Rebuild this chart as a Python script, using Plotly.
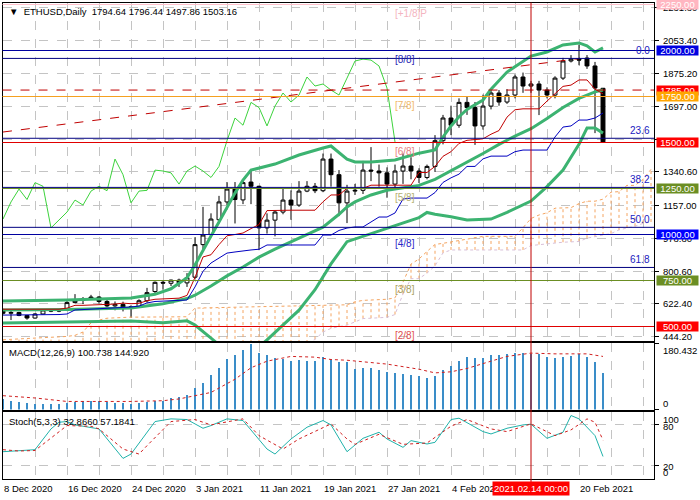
import plotly.graph_objects as go

# ---------------- data ----------------
date_tick_idx = [0, 8, 16, 24, 32, 40, 48, 56, 72]
date_tick_lbl = ["8 Dec 2020", "16 Dec 2020", "24 Dec 2020", "3 Jan 2021", "11 Jan 2021",
                 "19 Jan 2021", "27 Jan 2021", "4 Feb 2021", "20 Feb 2021"]
cross_idx = 66
cross_lbl = "2021.02.14 00:00"

price_grid_vals = [444.2, 622.4, 800.6, 978.8, 1157.0, 1340.6, 1518.8, 1697.0, 1875.2, 2053.4, 2231.8]
price_tick_vals = [444.2, 622.4, 800.6, 978.8, 1157.0, 1340.6, 1697.0, 1875.2, 2053.4, 2231.8]
price_tick_lbl = ["444.20", "622.40", "800.60", "978.80", "1157.00", "1340.60",
                  "1697.00", "1875.20", "2053.40", "2231.80"]

opens = [590, 572, 576, 560, 546, 568, 590, 584, 587, 630,
         642, 652, 660, 636, 612, 620, 598, 608, 640, 690,
         740, 735, 752, 737, 768, 945, 1000, 1080, 1177, 1247,
         1188, 1285, 1262, 1036, 1078, 1122, 1187, 1160, 1236, 1262,
         1238, 1410, 1325, 1172, 1236, 1240, 1350, 1345, 1335, 1274,
         1345, 1372, 1345, 1310, 1370, 1510, 1633, 1594, 1718, 1690,
         1590, 1698, 1769, 1720, 1758, 1856, 1807, 1818, 1785, 1758,
         1850, 1943, 1953, 1959, 1916, 1794.64]
highs = [596, 590, 580, 562, 572, 595, 592, 596, 640, 676,
         660, 672, 665, 646, 636, 635, 615, 648, 710, 745,
         748, 755, 760, 790, 985, 1150, 1115, 1210, 1285, 1285,
         1300, 1348, 1265, 1115, 1130, 1250, 1240, 1290, 1290, 1280,
         1440, 1440, 1350, 1270, 1275, 1400, 1475, 1380, 1365, 1380,
         1440, 1420, 1360, 1380, 1540, 1650, 1700, 1740, 1750, 1720,
         1760, 1790, 1785, 1790, 1870, 1880, 1835, 1835, 1800, 1860,
         1960, 1975, 2030, 1975, 1938, 1796.44]
lows = [565, 535, 556, 537, 543, 565, 578, 578, 584, 626,
        622, 645, 625, 600, 588, 582, 548, 605, 630, 680,
        700, 720, 715, 715, 760, 912, 985, 1060, 1160, 1060,
        1165, 1165, 915, 1005, 990, 1110, 1080, 1150, 1230, 1225,
        1230, 1260, 1100, 1062, 1215, 1220, 1290, 1260, 1200, 1250,
        1275, 1300, 1280, 1300, 1340, 1490, 1540, 1580, 1650, 1487,
        1570, 1680, 1700, 1710, 1740, 1770, 1770, 1649, 1740, 1740,
        1840, 1935, 1920, 1900, 1551, 1497.86]
closes = [572, 576, 560, 546, 568, 590, 584, 586, 630, 642,
          652, 660, 636, 612, 620, 604, 608, 640, 684, 740,
          736, 752, 738, 765, 945, 997, 1084, 1177, 1247, 1190,
          1282, 1262, 1036, 1078, 1122, 1187, 1160, 1236, 1262, 1238,
          1410, 1325, 1172, 1236, 1240, 1350, 1345, 1335, 1274, 1345,
          1372, 1345, 1310, 1370, 1510, 1633, 1594, 1718, 1690, 1590,
          1698, 1769, 1720, 1758, 1856, 1807, 1818, 1785, 1758, 1850,
          1943, 1953, 1948, 1916, 1796, 1503.16]

# Bollinger bands (read at selected bars)
bb_up_x = [0, 8, 16, 19, 21, 23, 24, 25, 26, 27, 28, 29, 30, 31, 34, 37, 40, 41, 43, 44, 46, 49,
           52, 54, 55, 56, 57, 58, 60, 61, 63, 66, 68, 70, 72, 73, 74, 75]
bb_up = [639, 644, 655, 675, 705, 765, 834, 916, 992, 1068, 1149, 1225, 1296, 1350, 1383, 1432,
         1470, 1481, 1410, 1394, 1394, 1405, 1442, 1460, 1530, 1590, 1640, 1680, 1731, 1790, 1883,
         1970, 1992, 2030, 2041, 2025, 1992, 2014]
bb_mid_x = [0, 8, 16, 20, 23, 24, 26, 28, 30, 32, 34, 36, 38, 40, 42, 43, 44, 46, 48, 50, 52, 54,
            56, 58, 60, 62, 64, 66, 68, 70, 72, 74, 75]
bb_mid = [590, 592, 600, 624, 652, 670, 720, 775, 823, 877, 920, 960, 1000, 1040, 1110, 1150, 1177,
          1215, 1240, 1255, 1267, 1300, 1347, 1390, 1440, 1490, 1535, 1575, 1630, 1690, 1740, 1775, 1785]
bb_low_x = [0, 8, 16, 20, 22, 23, 24, 25, 26, 27, 28, 30, 32, 33, 35, 37, 39, 41, 43, 47, 50, 52,
            53, 54, 56, 58, 61, 63, 66, 68, 70, 72, 73, 74, 75]
bb_low = [519, 524, 530, 521, 525, 531, 508, 475, 437, 400, 370, 350, 390, 427, 510, 589, 700, 840,
          961, 1020, 1062, 1092, 1120, 1110, 1096, 1079, 1084, 1120, 1182, 1260, 1350, 1490, 1579,
          1579, 1551]

# Ichimoku lines (per bar)
tenkan = [594, 594, 594, 594, 594, 594, 594, 594,
          600, 615, 615, 617, 617, 618, 622, 627, 624, 626,
          640, 648, 650, 652, 654, 669, 767, 878, 890, 945,
          993, 1000, 1008, 1032, 1054, 1130, 1132, 1132, 1132, 1132,
          1132, 1132, 1178, 1215, 1215, 1251, 1251, 1251, 1268, 1268,
          1268, 1268, 1268, 1268, 1337, 1337, 1370, 1425, 1450, 1495,
          1512, 1515, 1520, 1545, 1565, 1638, 1678, 1683, 1683, 1683,
          1725, 1765, 1805, 1812, 1840, 1840, 1790, 1764]
kijun = [562, 562, 562, 562, 562, 565, 565, 565, 568, 590,
         592, 594, 596, 598, 600, 603, 606, 611, 628, 636,
         638, 640, 642, 644, 715, 800, 845, 872, 899, 905,
         912, 916, 920, 943, 943, 943, 943, 943, 943, 943,
         997, 997, 1022, 1035, 1041, 1041, 1068, 1095, 1095, 1117,
         1193, 1198, 1198, 1198, 1228, 1283, 1308, 1328, 1370, 1370,
         1411, 1426, 1426, 1426, 1450, 1459, 1459, 1459, 1459, 1530,
         1584, 1590, 1622, 1622, 1633, 1660]
span_a = [428, 430, 432, 434, 436, 438, 440, 442, 446, 452,
          470, 520, 535, 545, 548, 550, 551, 551, 551, 551,
          551, 551, 551, 553, 600, 601,
          602, 602, 603, 603, 604, 604, 605, 605, 606, 607,
          608, 609, 611, 613, 615, 616, 617, 618, 634, 642,
          644, 646, 648, 656,
          741, 839, 867, 908, 946, 952, 960, 965, 975, 985,
          990, 990, 990, 990, 990, 1037,
          1087, 1106, 1118, 1143, 1146, 1146, 1168, 1181, 1181, 1192,
          1230, 1233, 1267, 1267, 1299, 1354]
span_b = [380, 380, 380, 380, 380, 380, 380, 380, 380, 380,
          390, 390, 390, 390, 390, 390, 390, 390, 390, 390,
          400, 400, 400, 400, 400, 400, 400, 400, 400, 400,
          410, 410, 410, 410, 410, 410, 410, 410, 410,
          430, 470, 490, 500, 508, 525, 543, 545, 548, 550, 565, 677, 760, 760, 790, 830, 900,
          916, 916, 916, 916, 916, 916, 916, 916, 916, 916,
          940, 945, 950, 955, 958, 960, 962, 980, 990, 997, 1005, 1025, 1035, 1045, 1060, 1068]
chikou_shift = 26

# MACD
macd_main = [28.8, 24, 21.5, 19, 17, 17, 17, 17, 19, 21.5,
             24, 25.5, 24, 21.5, 20, 19, 17, 19, 21.5, 24,
             25.5, 34, 36.7, 41, 59, 75, 95, 114, 140, 150,
             165, 180.4, 155, 150, 143, 139, 135, 137, 135, 135,
             144, 139, 130, 130, 111, 114, 114, 109, 103, 100,
             98, 96, 92, 87, 94, 110, 121, 134, 145, 141,
             143, 150, 150, 152, 157, 157, 153, 152, 145, 141,
             145, 148, 154, 145, 132, 100.7]
macd_sig_x = [0, 4, 8, 12, 16, 20, 22, 24, 26, 29, 31, 33, 36, 39, 41, 43, 45, 48, 52, 54, 56, 58,
              61, 63, 66, 69, 73, 75]
macd_sig = [37.7, 31.5, 22, 21.5, 22, 24, 28.8, 37.7, 46.6, 82.6, 114, 132, 145, 143, 136.5, 134.6,
            131, 124, 110, 100, 103, 112, 132, 145, 154, 152, 152, 144.92]

# Stochastic
stoch_k_x = [0, 2, 4, 6, 7, 8, 9, 12, 15, 16, 19, 21, 23, 25, 26, 28, 30, 33, 34, 36, 38, 40, 41,
             43, 45, 47, 48, 50, 51, 53, 54, 56, 57, 60, 61, 63, 65, 66, 68, 70, 71, 72, 74, 75]
stoch_k = [40, 41, 43, 74, 84, 85, 80, 74, 30, 36.5, 85, 89, 88, 75, 79, 89, 86.5, 44, 36.5, 59,
           76.5, 86.5, 80, 40, 60, 69, 59, 46.5, 56.5, 51.5, 54, 88, 90, 70, 66.5, 75, 80, 81, 60,
           69, 94, 89, 64, 32.87]
stoch_d_x = [0, 2, 4, 7, 8, 11, 12, 15, 17, 18, 21, 24, 26, 30, 32, 35, 37, 41, 43, 44, 47, 50, 53,
             56, 58, 61, 63, 66, 69, 71, 73, 74, 75]
stoch_d = [43, 41, 41.8, 70, 79, 78, 74, 44, 36.5, 49, 85, 88, 80, 89, 64, 44, 59, 81.5, 59, 51, 66,
           51, 53, 78, 88, 74, 70, 81.5, 64, 72.5, 89, 84, 57.18]

# Levels
murrey_levels = [2250, 2000, 1750, 1500, 1250, 1000, 750, 500]
murrey_labels = ["[+1/8]P", "[8/8]", "[7/8]", "[6/8]", "[5/8]", "[4/8]", "[3/8]", "[2/8]"]
murrey_line_col = ["#ffc0cb", "#0000a0", "#f5a020", "#e00000", "#6b8e23", "#0000a0", "#6b8e23", "#e00000"]
murrey_text_col = ["#f4b4c0", "#2828b4", "#f0b868", "#e88080", "#b4b070", "#2828c8", "#a8a060", "#e05050"]
murrey_box_col = ["#ffb6c1", "#0000e0", "#ffa500", "#ff0000", "#6b8e23", "#0000ff", "#6b8e23", "#ff0000"]
fib_levels = [1957, 1523, 1256, 1039, 821]
fib_labels = ["0.0", "23.6", "38.2", "50.0", "61.8"]
resist_level = 1785
trend_x = [0, 72]
trend_y = [1557, 1956]

# ---------------- layout helpers ----------------
W, H = 700, 500
FONT = "Liberation Sans, Arial, sans-serif"
XD = [2.5 / W, 654 / W]
MAIN_D = [1 - 341 / H, 1 - 2.5 / H]
MACD_D = [1 - 409.5 / H, 1 - 342.5 / H]
STO_D = [1 - 478.5 / H, 1 - 411.5 / H]
XR = [-0.0625, 81.375]
n = len(closes)
idx = list(range(n))

fig = go.Figure()

# Ichimoku cloud hatch
hx, hy = [], []
for i, (a, b) in enumerate(zip(span_a, span_b)):
    hx += [i, i, None]
    hy += [b, a, None]
fig.add_trace(go.Scatter(x=hx, y=hy, mode="lines", line=dict(color="#f4a460", width=1, dash="dot"),
                         hoverinfo="skip"))
fig.add_trace(go.Scatter(x=list(range(len(span_a))), y=span_a, mode="lines",
                         line=dict(color="#f4a460", width=1, dash="dot")))
fig.add_trace(go.Scatter(x=list(range(len(span_b))), y=span_b, mode="lines",
                         line=dict(color="#d8bfd8", width=1, dash="dot")))

# candles
fig.add_trace(go.Candlestick(x=idx, open=opens, high=highs, low=lows, close=closes,
                             increasing=dict(line=dict(color="black", width=1), fillcolor="white"),
                             decreasing=dict(line=dict(color="black", width=1), fillcolor="black"),
                             whiskerwidth=0))

# Chikou span
fig.add_trace(go.Scatter(x=[i - chikou_shift for i in idx[chikou_shift:]], y=closes[chikou_shift:],
                         mode="lines", line=dict(color="#3cd23c", width=1)))
# Bollinger
for bx, by in ((bb_up_x, bb_up), (bb_mid_x, bb_mid), (bb_low_x, bb_low)):
    fig.add_trace(go.Scatter(x=bx, y=by, mode="lines", line=dict(color="#3cb371", width=3)))
# Tenkan / Kijun
fig.add_trace(go.Scatter(x=idx, y=tenkan, mode="lines", line=dict(color="#c00000", width=1)))
fig.add_trace(go.Scatter(x=idx, y=kijun, mode="lines", line=dict(color="#0000c0", width=1)))
# trend line
fig.add_trace(go.Scatter(x=trend_x, y=trend_y, mode="lines",
                         line=dict(color="#c00000", width=1, dash="dash")))

# MACD
fig.add_trace(go.Bar(x=idx, y=macd_main, width=0.2, marker=dict(color="#3a8dc8", line=dict(width=0)),
                     xaxis="x2", yaxis="y2"))
fig.add_trace(go.Scatter(x=macd_sig_x, y=macd_sig, mode="lines", line=dict(color="#d02020", width=1, dash="dot"),
                         xaxis="x2", yaxis="y2"))
# Stochastic
fig.add_trace(go.Scatter(x=stoch_k_x, y=stoch_k, mode="lines", line=dict(color="#20b2aa", width=1),
                         xaxis="x3", yaxis="y3"))
fig.add_trace(go.Scatter(x=stoch_d_x, y=stoch_d, mode="lines", line=dict(color="#d02020", width=1, dash="dot"),
                         xaxis="x3", yaxis="y3"))

shapes = []
for lvl, col in zip(murrey_levels, murrey_line_col):
    shapes.append(dict(type="line", xref="paper", yref="y", x0=XD[0], x1=XD[1], y0=lvl, y1=lvl,
                       line=dict(color=col, width=1)))
for lvl in fib_levels:
    shapes.append(dict(type="line", xref="paper", yref="y", x0=XD[0], x1=XD[1], y0=lvl, y1=lvl,
                       line=dict(color="#000080", width=1)))
shapes.append(dict(type="line", xref="paper", yref="y", x0=XD[0], x1=XD[1], y0=resist_level, y1=resist_level,
                   line=dict(color="#c00000", width=1, dash="dash")))
shapes.append(dict(type="line", xref="x", yref="paper", x0=cross_idx, x1=cross_idx,
                   y0=1 - 483 / H, y1=MAIN_D[1], line=dict(color="#c00000", width=1)))

ann = []
def A(**kw):
    kw.setdefault("showarrow", False)
    ann.append(kw)

small = dict(family=FONT, size=9.5, color="black")
for v, l in zip(price_tick_vals, price_tick_lbl):
    A(x=661 / W, xref="paper", xanchor="left", y=v, yref="y", yanchor="middle", text=l, font=small)
# murrey labels and boxes
for lvl, lab, tc, bc in zip(murrey_levels, murrey_labels, murrey_text_col, murrey_box_col):
    A(x=48.75, xref="x", xanchor="left", y=lvl, yref="y", yanchor="top", yshift=-1, text=lab,
      font=dict(family=FONT, size=10, color=tc))
A(x=655.5 / W, xref="paper", xanchor="left", y=resist_level, yref="y", yanchor="middle",
  text=f"{resist_level:.2f}", bgcolor="#ff0000", width=41, height=9, borderpad=0,
  font=dict(family=FONT, size=9.5, color="white"))
for lvl, bc in zip(murrey_levels, murrey_box_col):
    A(x=655.5 / W, xref="paper", xanchor="left", y=lvl, yref="y", yanchor="middle",
      text=f"{lvl:.2f}", bgcolor=bc, width=41, height=9, borderpad=0,
      font=dict(family=FONT, size=9.5, color="white"))
for lvl, lab in zip(fib_levels, fib_labels):
    A(x=652 / W, xref="paper", xanchor="right", y=lvl, yref="y", yanchor="bottom", yshift=0, text=lab,
      font=dict(family=FONT, size=10, color="#2020c0"))

A(x=7 / W, xref="paper", xanchor="left", y=1 - 11 / H, yref="paper", yanchor="middle",
  text="\u25bc  ETHUSD,Daily  1794.64 1796.44 1497.86 1503.16", font=small)
A(x=7 / W, xref="paper", xanchor="left", y=1 - 352 / H, yref="paper", yanchor="middle",
  text="MACD(12,26,9) 100.738 144.920", font=small)
A(x=7 / W, xref="paper", xanchor="left", y=1 - 421.5 / H, yref="paper", yanchor="middle",
  text="Stoch(5,3,3) 32.8660 57.1841", font=small)
# sub-window scale labels
A(x=661 / W, xref="paper", xanchor="left", y=1 - 350 / H, yref="paper", yanchor="middle", text="180.432", font=small)
A(x=661 / W, xref="paper", xanchor="left", y=1 - 403 / H, yref="paper", yanchor="middle", text="0", font=small)
for v, yp in ((100, 419), (80, 426), (20, 466), (0, 472)):
    A(x=661 / W, xref="paper", xanchor="left", y=1 - yp / H, yref="paper", yanchor="middle", text=str(v), font=small)
# date labels
for i, l in zip(date_tick_idx, date_tick_lbl):
    A(x=i, xref="x3", xanchor="left", xshift=-1, y=1 - 488 / H, yref="paper", yanchor="middle", text=l, font=small)
A(x=cross_idx, xref="x3", xanchor="center", y=1 - 488 / H, yref="paper", yanchor="middle", text=cross_lbl,
  bgcolor="#ff0000", borderpad=1, font=dict(family=FONT, size=9.5, color="white"))

grid_x = list(range(4, 82, 4))
common_x = dict(range=XR, domain=XD, showline=True, linecolor="black", linewidth=1, mirror=True,
                tickvals=grid_x, showticklabels=False, ticks="", showgrid=True, gridcolor="#c4c4c4",
                griddash="dash", gridwidth=1, zeroline=False, fixedrange=True)

fig.update_layout(
    width=W, height=H, margin=dict(l=0, r=0, t=0, b=0), paper_bgcolor="white", plot_bgcolor="white",
    showlegend=False, shapes=shapes, annotations=ann, bargap=0,
    xaxis=dict(anchor="y", rangeslider=dict(visible=False), **common_x),
    xaxis2=dict(anchor="y2", **common_x),
    xaxis3=dict(anchor="y3", **common_x),
    yaxis=dict(domain=MAIN_D, range=[421.2, 2260.9], tickvals=price_grid_vals, showticklabels=False,
               ticks="outside", ticklen=4, tickcolor="black", side="right", showgrid=True,
               gridcolor="#c4c4c4", griddash="dash", showline=True, linecolor="black", mirror=True,
               zeroline=False),
    yaxis2=dict(domain=MACD_D, range=[0, 183], tickvals=[0, 180.432], showticklabels=False, ticks="outside",
                ticklen=4, tickcolor="black", side="right", showgrid=False, showline=True, linecolor="black",
                mirror=True, zeroline=False),
    yaxis3=dict(domain=STO_D, range=[0, 100], tickvals=[20, 80], showticklabels=False, ticks="outside",
                ticklen=4, tickcolor="black", side="right", showgrid=True, gridcolor="#c4c4c4",
                griddash="dash", showline=True, linecolor="black", mirror=True, zeroline=False),
)
fig.write_html("out.html")
